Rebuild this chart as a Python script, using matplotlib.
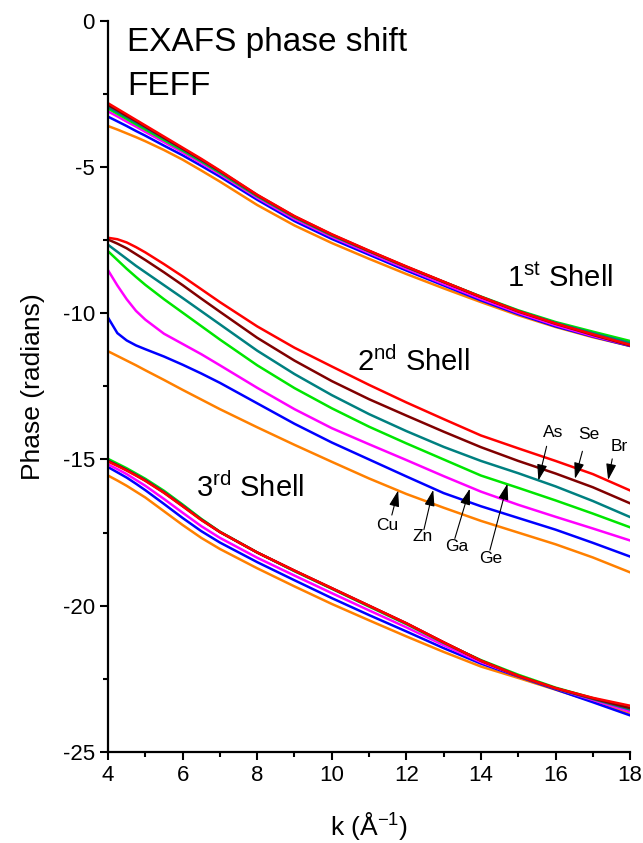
import matplotlib
matplotlib.use('Agg')
import matplotlib.pyplot as plt
from matplotlib.ticker import MultipleLocator

plt.rcParams['font.family'] = ['Liberation Sans', 'DejaVu Sans']
plt.rcParams['mathtext.default'] = 'regular'
plt.rcParams['axes.unicode_minus'] = False

# k grid (1/Angstrom)
k = [4, 4.25, 4.5, 4.75, 5, 5.5, 6, 6.5, 7, 8, 9, 10, 11, 12, 13, 14, 15, 16, 17, 18]

elements = ['Cu', 'Zn', 'Ga', 'Ge', 'As', 'Se', 'Br']
colors = ['#ff8000', '#0000ff', '#ff00ff', '#00e600', '#008080', '#800000', '#ff0000']

# 1st shell phase shifts
shell1_cu = [-3.60, -3.72, -3.85, -3.98, -4.12, -4.42, -4.75, -5.12, -5.50, -6.30, -7.00, -7.60, -8.14, -8.66, -9.15, -9.62, -10.07, -10.47, -10.82, -11.12]
shell1_zn = [-3.28, -3.44, -3.60, -3.77, -3.93, -4.27, -4.60, -4.96, -5.33, -6.12, -6.85, -7.46, -8.00, -8.54, -9.05, -9.56, -10.03, -10.45, -10.80, -11.12]
shell1_ga = [-3.10, -3.27, -3.45, -3.62, -3.80, -4.15, -4.50, -4.87, -5.25, -6.05, -6.78, -7.39, -7.94, -8.48, -9.00, -9.51, -9.99, -10.41, -10.78, -11.10]
shell1_ge = [-3.00, -3.18, -3.36, -3.54, -3.72, -4.08, -4.44, -4.81, -5.20, -6.00, -6.72, -7.34, -7.88, -8.42, -8.93, -9.43, -9.90, -10.30, -10.63, -10.95]
shell1_as = [-2.95, -3.12, -3.30, -3.48, -3.66, -4.03, -4.40, -4.78, -5.17, -5.98, -6.71, -7.33, -7.88, -8.42, -8.93, -9.44, -9.92, -10.33, -10.68, -11.02]
shell1_se = [-2.88, -3.06, -3.25, -3.43, -3.62, -4.00, -4.37, -4.75, -5.14, -5.96, -6.69, -7.31, -7.87, -8.41, -8.93, -9.45, -9.94, -10.36, -10.74, -11.10]
shell1_br = [-2.82, -3.01, -3.20, -3.39, -3.58, -3.96, -4.34, -4.72, -5.12, -5.95, -6.68, -7.30, -7.86, -8.40, -8.92, -9.44, -9.93, -10.35, -10.72, -11.08]

# 2nd shell
shell2_cu = [-11.30, -11.46, -11.62, -11.78, -11.95, -12.28, -12.62, -12.95, -13.28, -13.90, -14.50, -15.08, -15.65, -16.18, -16.65, -17.10, -17.50, -17.90, -18.35, -18.86]
shell2_zn = [-10.15, -10.68, -10.93, -11.10, -11.23, -11.48, -11.76, -12.06, -12.38, -13.08, -13.78, -14.42, -15.00, -15.58, -16.15, -16.60, -17.00, -17.40, -17.85, -18.32]
shell2_ga = [-8.53, -9.05, -9.52, -9.92, -10.22, -10.70, -11.05, -11.40, -11.78, -12.55, -13.28, -13.93, -14.48, -15.02, -15.57, -16.10, -16.55, -16.96, -17.36, -17.77]
shell2_ge = [-7.88, -8.18, -8.48, -8.76, -9.03, -9.52, -9.98, -10.44, -10.90, -11.78, -12.56, -13.25, -13.88, -14.45, -15.00, -15.55, -15.97, -16.40, -16.85, -17.32]
shell2_as = [-7.66, -7.90, -8.14, -8.38, -8.60, -9.04, -9.48, -9.93, -10.38, -11.28, -12.08, -12.80, -13.45, -14.03, -14.57, -15.05, -15.47, -15.92, -16.42, -16.97]
shell2_se = [-7.48, -7.62, -7.78, -7.98, -8.18, -8.60, -9.04, -9.50, -9.95, -10.84, -11.62, -12.32, -12.94, -13.50, -14.05, -14.58, -15.05, -15.48, -15.95, -16.50]
shell2_br = [-7.42, -7.47, -7.58, -7.74, -7.92, -8.32, -8.74, -9.18, -9.62, -10.45, -11.18, -11.82, -12.45, -13.05, -13.62, -14.18, -14.62, -15.05, -15.50, -16.06]

# 3rd shell
shell3_cu = [-15.55, -15.72, -15.90, -16.10, -16.30, -16.77, -17.24, -17.68, -18.06, -18.72, -19.34, -19.94, -20.50, -21.05, -21.58, -22.08, -22.47, -22.87, -23.27, -23.70]
shell3_zn = [-15.26, -15.44, -15.62, -15.83, -16.05, -16.52, -17.00, -17.45, -17.84, -18.51, -19.13, -19.74, -20.32, -20.88, -21.45, -21.98, -22.42, -22.86, -23.30, -23.75]
shell3_ga = [-15.17, -15.33, -15.50, -15.70, -15.90, -16.35, -16.82, -17.28, -17.68, -18.36, -18.97, -19.57, -20.16, -20.74, -21.35, -21.93, -22.40, -22.83, -23.22, -23.62]
shell3_ge = [-14.98, -15.14, -15.30, -15.48, -15.66, -16.07, -16.54, -17.03, -17.47, -18.18, -18.82, -19.42, -20.03, -20.63, -21.27, -21.86, -22.36, -22.80, -23.16, -23.50]
shell3_as = [-15.03, -15.19, -15.35, -15.52, -15.70, -16.11, -16.57, -17.05, -17.48, -18.18, -18.81, -19.41, -20.01, -20.61, -21.26, -21.88, -22.40, -22.83, -23.19, -23.55]
shell3_se = [-15.05, -15.20, -15.36, -15.54, -15.72, -16.13, -16.59, -17.06, -17.48, -18.18, -18.80, -19.40, -20.00, -20.60, -21.25, -21.88, -22.40, -22.82, -23.17, -23.50]
shell3_br = [-15.07, -15.22, -15.38, -15.55, -15.73, -16.14, -16.60, -17.07, -17.48, -18.18, -18.80, -19.40, -20.00, -20.60, -21.25, -21.88, -22.40, -22.82, -23.15, -23.42]

shell1 = [shell1_cu, shell1_zn, shell1_ga, shell1_ge, shell1_as, shell1_se, shell1_br]
shell2 = [shell2_cu, shell2_zn, shell2_ga, shell2_ge, shell2_as, shell2_se, shell2_br]
shell3 = [shell3_cu, shell3_zn, shell3_ga, shell3_ge, shell3_as, shell3_se, shell3_br]

# element label text position, arrow tail, arrow tip (on the 2nd shell curve)
label_text = [(11.49, -17.26), (12.43, -17.64), (13.35, -17.98), (14.26, -18.39),
              (15.94, -14.07), (16.88, -14.14), (17.70, -14.54)]
arrow_tail = [(11.61, -16.90), (12.47, -17.40), (13.30, -17.70), (14.24, -18.10),
              (15.76, -14.55), (16.72, -14.72), (17.52, -14.98)]
arrow_tip = [(11.78, -16.06), (12.72, -16.04), (13.70, -16.00), (14.71, -15.83),
             (15.54, -15.72), (16.52, -15.66), (17.41, -15.70)]

fig = plt.figure(figsize=(6.43, 8.43), dpi=100)
ax = fig.add_axes([0.168, 0.108, 0.812, 0.8674])

for shell in (shell1, shell2, shell3):
    for vals, c in zip(shell, colors):
        ax.plot(k, vals, color=c, lw=1.8, solid_joinstyle='round')

for el, txt, tail, tip in zip(elements, label_text, arrow_tail, arrow_tip):
    ax.text(txt[0], txt[1], el, fontsize=12.5, ha='center', va='center')
    ax.annotate('', xy=tip, xytext=tail,
                arrowprops=dict(arrowstyle='-|>,head_length=0.7,head_width=0.22',
                                color='black', lw=0.8, mutation_scale=14,
                                shrinkA=0, shrinkB=0))

ax.text(4.51, -1.05, 'EXAFS phase shift', fontsize=24, va='baseline')
ax.text(4.51, -2.53, 'FEFF', fontsize=24, va='baseline')
ax.text(17.54, -9.11, '1$^{st}$ Shell', fontsize=21, ha='right', va='baseline')
ax.text(10.68, -11.98, '2$^{nd}$ Shell', fontsize=21, va='baseline')
ax.text(6.36, -16.29, '3$^{rd}$ Shell', fontsize=21, va='baseline')

ax.set_xlim(4, 18)
ax.set_ylim(-25, 0)
ax.xaxis.set_major_locator(MultipleLocator(2))
ax.xaxis.set_minor_locator(MultipleLocator(1))
ax.yaxis.set_major_locator(MultipleLocator(5))
ax.yaxis.set_minor_locator(MultipleLocator(2.5))
ax.tick_params(which='major', direction='out', length=6, width=1.5, labelsize=16)
ax.tick_params(which='minor', direction='out', length=3.5, width=1.5)
for side in ('top', 'right'):
    ax.spines[side].set_visible(False)
for side in ('left', 'bottom'):
    ax.spines[side].set_linewidth(1.6)

ax.set_xlabel('k (Å$^{-1}$)', fontsize=19, labelpad=17)
ax.set_ylabel('Phase (radians)', fontsize=19, labelpad=13)

fig.savefig('out.png', dpi=100)
